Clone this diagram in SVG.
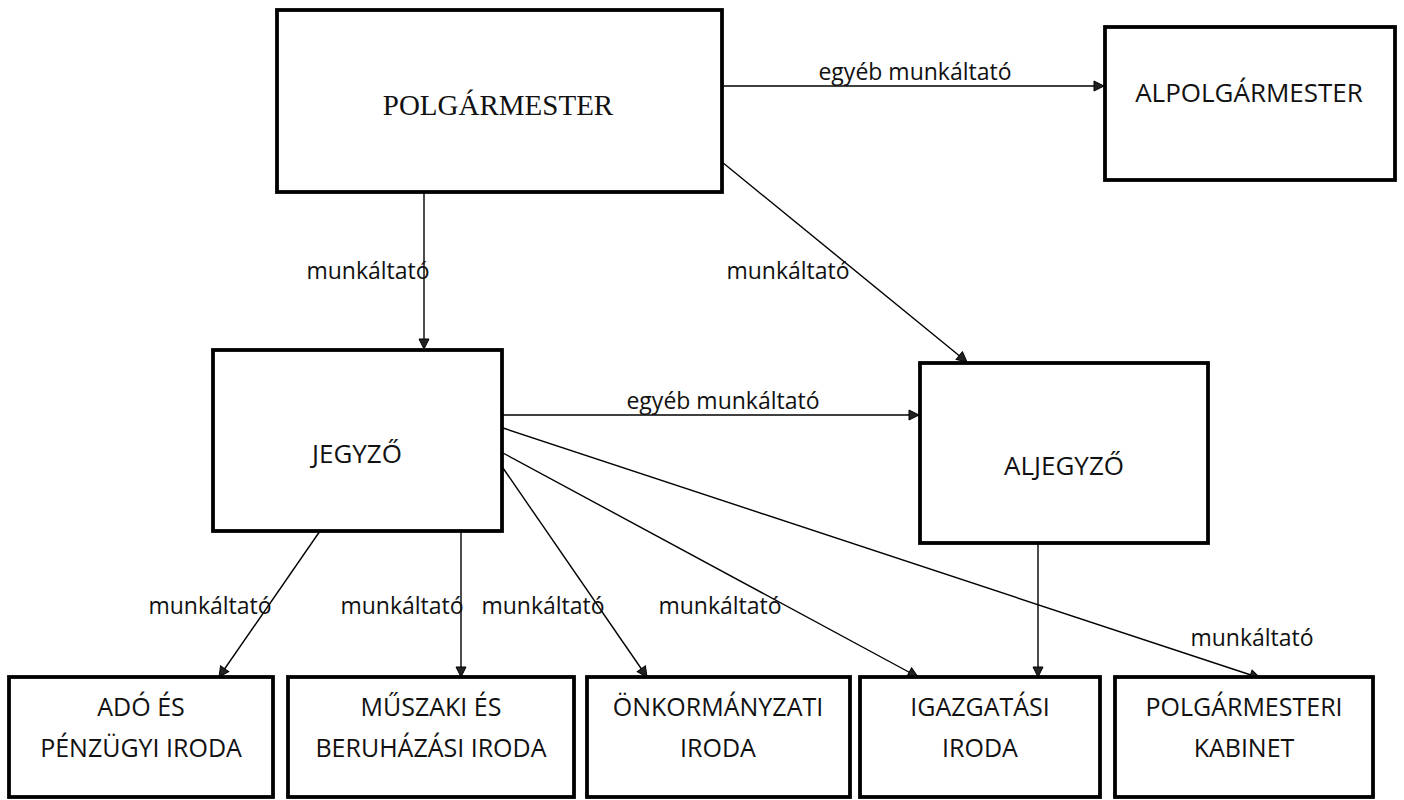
<svg xmlns="http://www.w3.org/2000/svg" width="1404" height="800" viewBox="0 0 1404 800">
<style>
.box{fill:#fff;stroke:#000;stroke-width:3.8}
.t{font-family:"Open Sans","Liberation Sans",sans-serif;font-size:26px;fill:#111;text-anchor:middle}
.b{font-family:"Open Sans","Liberation Sans",sans-serif;font-size:25px;fill:#111;text-anchor:middle}
.s{font-family:"Liberation Serif","DejaVu Serif",serif;font-size:29px;fill:#111;text-anchor:middle}
.lbl{font-family:"Open Sans","Liberation Sans",sans-serif;font-size:23px;fill:#111;text-anchor:middle}
.c{stroke:#000;stroke-width:1.4;fill:none;marker-end:url(#arr)}
</style>
<defs>
<marker id="arr" markerUnits="userSpaceOnUse" markerWidth="12" markerHeight="12" refX="11" refY="6" orient="auto">
<path d="M1,1 L11,6 L1,11 z" fill="#222" stroke="#000" stroke-width="1"/>
</marker>
</defs>
<rect width="1404" height="800" fill="#fff"/>
<g id="connectors">
<line class="c" x1="722" y1="86" x2="1104" y2="86"/>
<line class="c" x1="424" y1="192" x2="424" y2="349"/>
<line class="c" x1="722" y1="162" x2="967" y2="362"/>
<line class="c" x1="502" y1="415" x2="919" y2="415"/>
<line class="c" x1="320" y1="531" x2="219" y2="677"/>
<line class="c" x1="461" y1="531" x2="461" y2="677"/>
<line class="c" x1="503" y1="468" x2="647" y2="677"/>
<line class="c" x1="503" y1="453" x2="918" y2="677"/>
<line class="c" x1="503" y1="428" x2="1260" y2="678"/>
<line class="c" x1="1038" y1="543" x2="1038" y2="677"/>
<text class="lbl" x="915" y="80">egyéb munkáltató</text>
<text class="lbl" x="368" y="279">munkáltató</text>
<text class="lbl" x="788" y="279">munkáltató</text>
<text class="lbl" x="723" y="409">egyéb munkáltató</text>
<text class="lbl" x="210" y="614">munkáltató</text>
<text class="lbl" x="402" y="614">munkáltató</text>
<text class="lbl" x="543" y="614">munkáltató</text>
<text class="lbl" x="720" y="614">munkáltató</text>
<text class="lbl" x="1252" y="646">munkáltató</text>
</g>
<g id="polgarmester">
<rect class="box" x="277" y="10" width="445" height="182"/>
<text class="s" x="498" y="115">POLGÁRMESTER</text>
</g>
<g id="alpolgarmester">
<rect class="box" x="1105" y="27" width="290" height="153"/>
<text class="t" x="1249" y="102">ALPOLGÁRMESTER</text>
</g>
<g id="jegyzo">
<rect class="box" x="213" y="350" width="289" height="181"/>
<text class="t" x="357" y="463">JEGYZŐ</text>
</g>
<g id="aljegyzo">
<rect class="box" x="920" y="363" width="288" height="180"/>
<text class="t" x="1064" y="475">ALJEGYZŐ</text>
</g>
<g id="ado">
<rect class="box" x="9" y="677" width="264" height="120"/>
<text class="b" x="141" y="716">ADÓ ÉS</text>
<text class="b" x="141" y="757">PÉNZÜGYI IRODA</text>
</g>
<g id="muszaki">
<rect class="box" x="288" y="677" width="286" height="120"/>
<text class="b" x="431" y="716">MŰSZAKI ÉS</text>
<text class="b" x="431" y="757">BERUHÁZÁSI IRODA</text>
</g>
<g id="onkormanyzati">
<rect class="box" x="587" y="677" width="263" height="120"/>
<text class="b" x="718" y="716">ÖNKORMÁNYZATI</text>
<text class="b" x="718" y="757">IRODA</text>
</g>
<g id="igazgatasi">
<rect class="box" x="860" y="677" width="240" height="120"/>
<text class="b" x="980" y="716">IGAZGATÁSI</text>
<text class="b" x="980" y="757">IRODA</text>
</g>
<g id="kabinet">
<rect class="box" x="1115" y="677" width="258" height="120"/>
<text class="b" x="1244" y="716">POLGÁRMESTERI</text>
<text class="b" x="1244" y="757">KABINET</text>
</g>
</svg>
